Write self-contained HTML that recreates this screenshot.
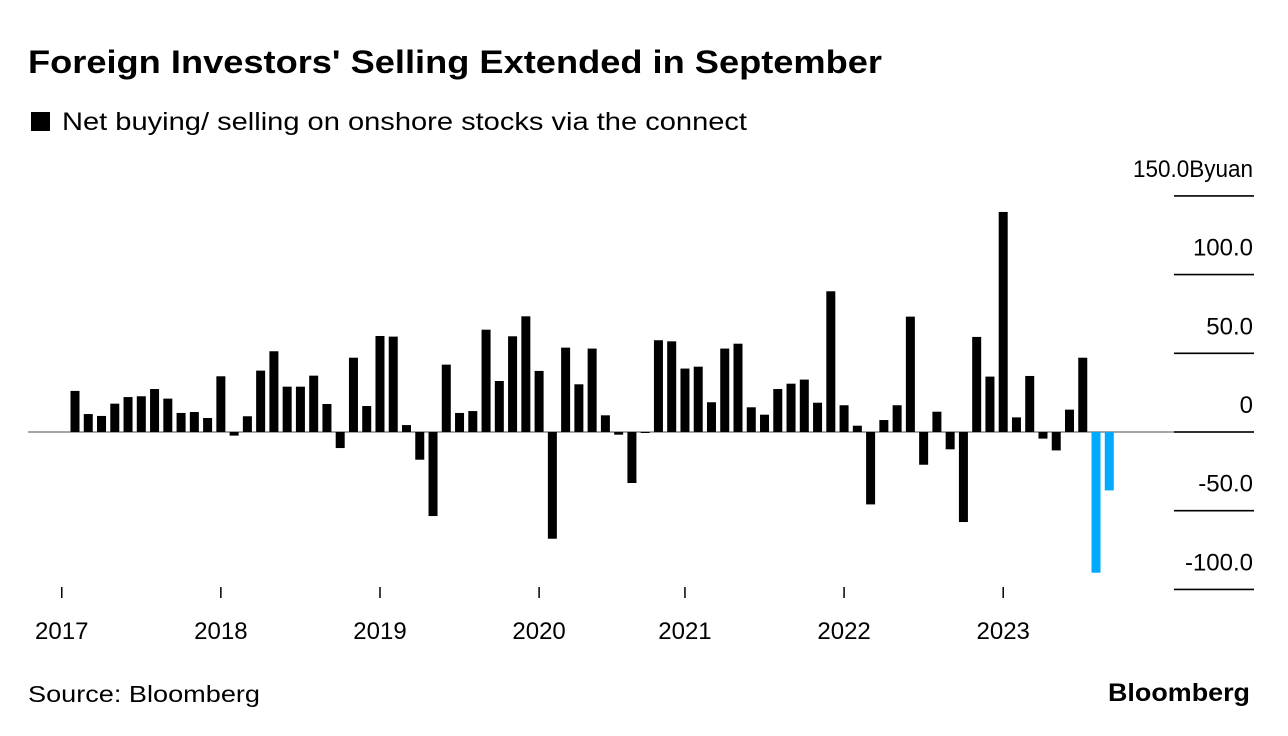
<!DOCTYPE html>
<html><head><meta charset="utf-8"><style>
html,body{margin:0;padding:0;background:#fff;}
svg{display:block;font-family:"Liberation Sans",Arial,sans-serif;}
</style></head><body>
<svg id="chart" width="1288" height="736" viewBox="0 0 1288 736" xmlns="http://www.w3.org/2000/svg">
<text x="28" y="73" font-size="32" font-weight="bold" fill="#000" textLength="854" lengthAdjust="spacingAndGlyphs">Foreign Investors' Selling Extended in September</text>
<rect x="31" y="112" width="19" height="19" fill="#000"/>
<text x="62" y="130" font-size="25" fill="#000" textLength="685" lengthAdjust="spacingAndGlyphs">Net buying/ selling on onshore stocks via the connect</text>
<g id="grid"></g>
<g id="bars"></g>
<g id="xaxis"></g>
<text x="28" y="702" font-size="23" fill="#000" textLength="232" lengthAdjust="spacingAndGlyphs">Source: Bloomberg</text>
<text x="1250" y="701" font-size="25" font-weight="bold" fill="#000" text-anchor="end" textLength="142" lengthAdjust="spacingAndGlyphs">Bloomberg</text>
</svg>
<script>
const values = [26.1,11.4,10.2,18,22.2,22.7,27.3,21.2,12.1,12.7,8.9,35.4,-2.3,10,39,51.3,28.8,28.8,35.8,17.8,-10.2,47.2,16.5,61,60.6,4.4,-17.6,-53.4,
42.8,12.1,13.3,65,32.4,60.8,73.5,38.8,-67.8,53.6,30.3,53,10.6,-1.7,-32.4,-0.6,58.3,57.6,40.3,41.5,18.9,53,56.1,15.7,11,27.3,30.7,33.3,18.6,89.4,
17,4,-46,7.6,17,73.3,-20.8,12.9,-11,-57.2,60.4,35.2,139.8,9.3,35.6,-4.2,-11.7,14.2,47.2,-89.4,-37.1];
const highlight = [77,78];
const yTicks = [150,100,50,0,-50,-100];
const yTickLabels = ["150.0Byuan","100.0","50.0","0","-50.0","-100.0"];
const xTickIndex = [-1,11,23,35,46,58,70];
const xTickLabels = ["2017","2018","2019","2020","2021","2022","2023"];

const NS="http://www.w3.org/2000/svg";
function yScale(v){return 432 - v*1.574;}
function xScale(i){return 75 + i*13.26;}
function mk(tag,attrs,parent){const e=document.createElementNS(NS,tag);for(const k in attrs)e.setAttribute(k,attrs[k]);parent.appendChild(e);return e;}
const grid=document.getElementById('grid'),bars=document.getElementById('bars'),xa=document.getElementById('xaxis');
yTicks.forEach((t,k)=>{
  const y=yScale(t);
  if(t===0){
    const z=mk('line',{x1:28,x2:1254,y1:y,y2:y,stroke:'#888','stroke-width':1.5},grid);
    
    
  }
  const l=mk('line',{x1:1174,x2:1254,y1:y,y2:y,stroke:'#000','stroke-width':1.6},grid);
  
  
  const attrs={x:1253,y:y-19,'font-size':24,'text-anchor':'end',fill:'#000'};
  if(k===0){attrs.textLength=120;attrs.lengthAdjust='spacingAndGlyphs';}
  const tx=mk('text',attrs,grid);
  tx.textContent=yTickLabels[k];
  
  
});
values.forEach((v,i)=>{
  const x=xScale(i)-4.5,y0=yScale(0),y1=yScale(v);
  const r=mk('rect',{x:x,y:Math.min(y0,y1),width:9,height:Math.max(1,Math.abs(y1-y0)),fill:highlight.includes(i)?'#00aaff':'#000'},bars);
  
  
});
xTickIndex.forEach((idx,k)=>{
  const x=xScale(idx);
  const t=mk('line',{x1:x,x2:x,y1:587,y2:598,stroke:'#000','stroke-width':1.5},xa);
  
  
  const tx=mk('text',{x:x,y:639,'font-size':24,'text-anchor':'middle',fill:'#000'},xa);
  tx.textContent=xTickLabels[k];
  
  
});
</script>
</body></html>
